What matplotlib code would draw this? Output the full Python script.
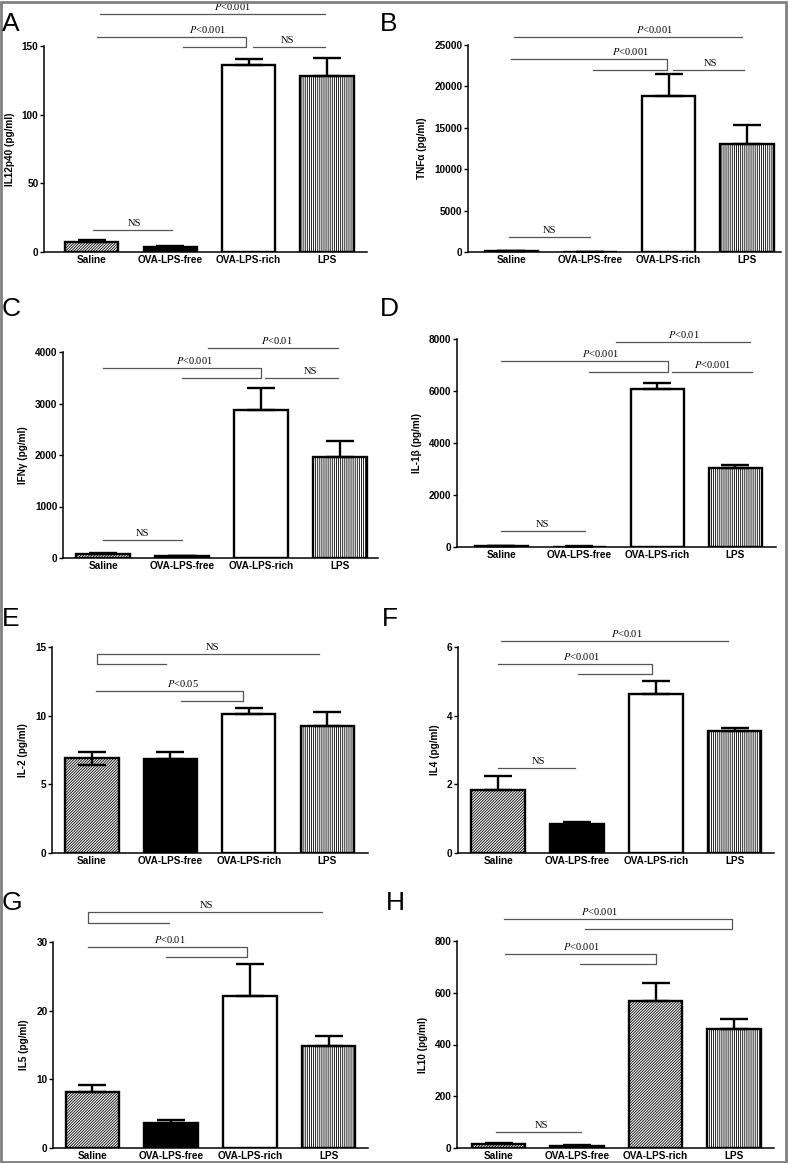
import matplotlib
matplotlib.use("Agg")
import matplotlib.pyplot as plt
from matplotlib.patches import Rectangle

plt.rcParams['font.family'] = ['Liberation Sans', 'DejaVu Sans']
plt.rcParams['mathtext.fontset'] = 'stix'
plt.rcParams['hatch.linewidth'] = 0.6

groups = ['Saline', 'OVA-LPS-free', 'OVA-LPS-rich', 'LPS']

il12 = [7.5, 3.5, 136.5, 128.5]
il12_err = [1.2, 0.7, 4.0, 13.0]
tnf = [80, 40, 18850, 13100]
tnf_err = [40, 20, 2600, 2250]
ifn = [70, 30, 2870, 1960]
ifn_err = [20, 10, 440, 320]
il1b = [20, 15, 6070, 3020]
il1b_err = [10, 5, 220, 150]
il2 = [6.9, 6.82, 10.12, 9.25]
il2_err = [0.48, 0.55, 0.46, 1.04]
il2_err_low = [0.48, 0, 0, 0]
il4 = [1.83, 0.84, 4.62, 3.56]
il4_err = [0.42, 0.07, 0.40, 0.09]
il5 = [8.1, 3.6, 22.1, 14.9]
il5_err = [1.07, 0.5, 4.7, 1.4]
il10 = [14, 8, 570, 460]
il10_err = [4, 3, 66, 39]

W, H = 788, 1163
fig = plt.figure(figsize=(W / 100, H / 100), dpi=100)

DIAG = '/' * 12
VERT = '|' * 8
hatch_default = [DIAG, None, None, VERT]
face_default = ['white', 'black', 'white', 'white']


def make_ax(l, r, t, b):
    return fig.add_axes([l / W, 1 - b / H, (r - l) / W, (b - t) / H])


def hline(ax, x1, x2, y, label=None, tx=None):
    ax.plot([x1, x2], [y, y], color='#555555', lw=0.9, clip_on=False)
    if label:
        ax.annotate(label, (tx, y), xytext=(0, 1.5), textcoords='offset points',
                    ha='center', va='bottom', fontsize=7.5, family='Liberation Serif',
                    annotation_clip=False)


def bracket(ax, xa, xc, xb, yu, yl, label, tx):
    ax.plot([xa, xc, xc, xb], [yu, yu, yl, yl], color='#555555', lw=0.9, clip_on=False)
    ax.annotate(label, (tx, yu), xytext=(0, 1.5), textcoords='offset points',
                ha='center', va='bottom', fontsize=7.5, family='Liberation Serif',
                annotation_clip=False)


def panel(box, xlim, ylim, ticks, vals, err, ylabel, letter, lpos,
          err_low=None, hatches=None):
    ax = make_ax(*box)
    x = range(len(groups))
    hatches = hatches or hatch_default
    for i in x:
        ax.bar(i, vals[i], width=0.68, color=face_default[i], edgecolor='black',
               linewidth=1.7, hatch=hatches[i], zorder=2)
    low = err_low if err_low is not None else [0] * len(vals)
    ax.errorbar(list(x), vals, yerr=[low, err], fmt='none', ecolor='black',
                elinewidth=1.7, capsize=10, capthick=1.7, zorder=3)
    ax.set_xlim(*xlim)
    ax.set_ylim(*ylim)
    ax.set_yticks(ticks)
    ax.set_xticks(list(x))
    ax.set_xticklabels(groups, fontsize=7.2, fontweight='bold')
    for lab in ax.get_yticklabels():
        lab.set_fontweight('bold')
        lab.set_fontsize(7.2)
    ax.tick_params(axis='x', length=0, pad=2)
    ax.tick_params(axis='y', length=3, width=1, pad=1)
    ax.set_ylabel(ylabel, fontsize=7.2, fontweight='bold', labelpad=5)
    for s in ['top', 'right']:
        ax.spines[s].set_visible(False)
    for s in ['left', 'bottom']:
        ax.spines[s].set_linewidth(1.1)
    fig.text(lpos[0] / W, 1 - lpos[1] / H, letter, fontsize=19, va='top', ha='left')
    return ax


P = r'$\mathit{P}$'

# A
ax = panel((44, 367, 46, 252), (-0.61, 3.51), (0, 150), [0, 50, 100, 150],
           il12, il12_err, 'IL12p40 (pg/ml)', 'A', (2, 12))
hline(ax, 0.11, 2.98, 173.3, P + '<0.001', 1.8)
bracket(ax, 0.06, 1.97, 1.16, 156.6, 149.3, P + '<0.001', 1.47)
hline(ax, 2.06, 2.98, 149.3, 'NS', 2.5)
hline(ax, 0.01, 1.02, 16, 'NS', 0.54)

# B
ax = panel((468, 781, 45, 252), (-0.55, 3.43), (0, 25000),
           [0, 5000, 10000, 15000, 20000, 25000],
           tnf, tnf_err, 'TNFα (pg/ml)', 'B', (380, 12))
hline(ax, 0.03, 2.94, 25970, P + '<0.001', 1.82)
bracket(ax, 0.0, 1.98, 1.04, 23310, 21980, P + '<0.001', 1.52)
hline(ax, 2.06, 2.96, 21980, 'NS', 2.53)
hline(ax, -0.03, 1.0, 1812, 'NS', 0.48)

# C
ax = panel((63, 378, 352, 558), (-0.51, 3.48), (0, 4000),
           [0, 1000, 2000, 3000, 4000],
           ifn, ifn_err, 'IFNγ (pg/ml)', 'C', (2, 297))
hline(ax, 1.33, 2.97, 4078, P + '<0.01', 2.2)
bracket(ax, 0.0, 2.0, 1.0, 3690, 3495, P + '<0.001', 1.16)
hline(ax, 2.05, 2.97, 3495, 'NS', 2.62)
hline(ax, 0.0, 1.0, 350, 'NS', 0.5)

# D
ax = panel((457, 776, 339, 547), (-0.57, 3.52), (0, 8000),
           [0, 2000, 4000, 6000, 8000],
           il1b, il1b_err, 'IL-1β (pg/ml)', 'D', (380, 297))
hline(ax, 1.47, 3.19, 7885, P + '<0.01', 2.34)
bracket(ax, 0.0, 2.13, 1.12, 7154, 6731, P + '<0.001', 1.27)
hline(ax, 2.19, 3.21, 6731, P + '<0.001', 2.7)
hline(ax, 0.0, 1.07, 615, 'NS', 0.53)

# E
ax = panel((52, 368, 647, 853), (-0.51, 3.52), (0, 15), [0, 5, 10, 15],
           il2, il2_err, 'IL-2 (pg/ml)', 'E', (2, 607), err_low=il2_err_low)
bracket(ax, 2.9, 0.07, 0.94, 14.49, 13.76, 'NS', 1.54)
bracket(ax, 0.05, 1.93, 1.14, 11.8, 11.07, P + '<0.05', 1.16)

# F
ax = panel((458, 774, 647, 853), (-0.51, 3.5), (0, 6), [0, 2, 4, 6],
           il4, il4_err, 'IL4 (pg/ml)', 'F', (382, 607))
hline(ax, 0.03, 2.92, 6.18, P + '<0.01', 1.63)
bracket(ax, 0.0, 1.95, 1.01, 5.5, 5.21, P + '<0.001', 1.06)
hline(ax, 0.0, 0.97, 2.48, 'NS', 0.51)

# G
ax = panel((53, 368, 942, 1148), (-0.5, 3.5), (0, 30), [0, 10, 20, 30],
           il5, il5_err, 'IL5 (pg/ml)', 'G', (2, 891))
bracket(ax, 2.92, -0.06, 0.97, 34.4, 32.8, 'NS', 1.45)
bracket(ax, -0.06, 1.96, 0.94, 29.3, 27.8, P + '<0.01', 0.99)

# H
ax = panel((457, 774, 941, 1148), (-0.53, 3.51), (0, 800),
           [0, 200, 400, 600, 800],
           il10, il10_err, 'IL10 (pg/ml)', 'H', (386, 891),
           hatches=[DIAG, None, DIAG, VERT])
bracket(ax, 0.07, 2.97, 1.1, 885, 846, P + '<0.001', 1.29)
bracket(ax, 0.08, 2.0, 1.04, 750, 711, P + '<0.001', 1.05)
hline(ax, -0.03, 1.05, 62, 'NS', 0.54)

fig.patches.append(Rectangle((0.001, 0.001), 0.997, 0.997, transform=fig.transFigure,
                             fill=False, edgecolor='#808080', linewidth=2))

fig.savefig('out.png', dpi=100)
